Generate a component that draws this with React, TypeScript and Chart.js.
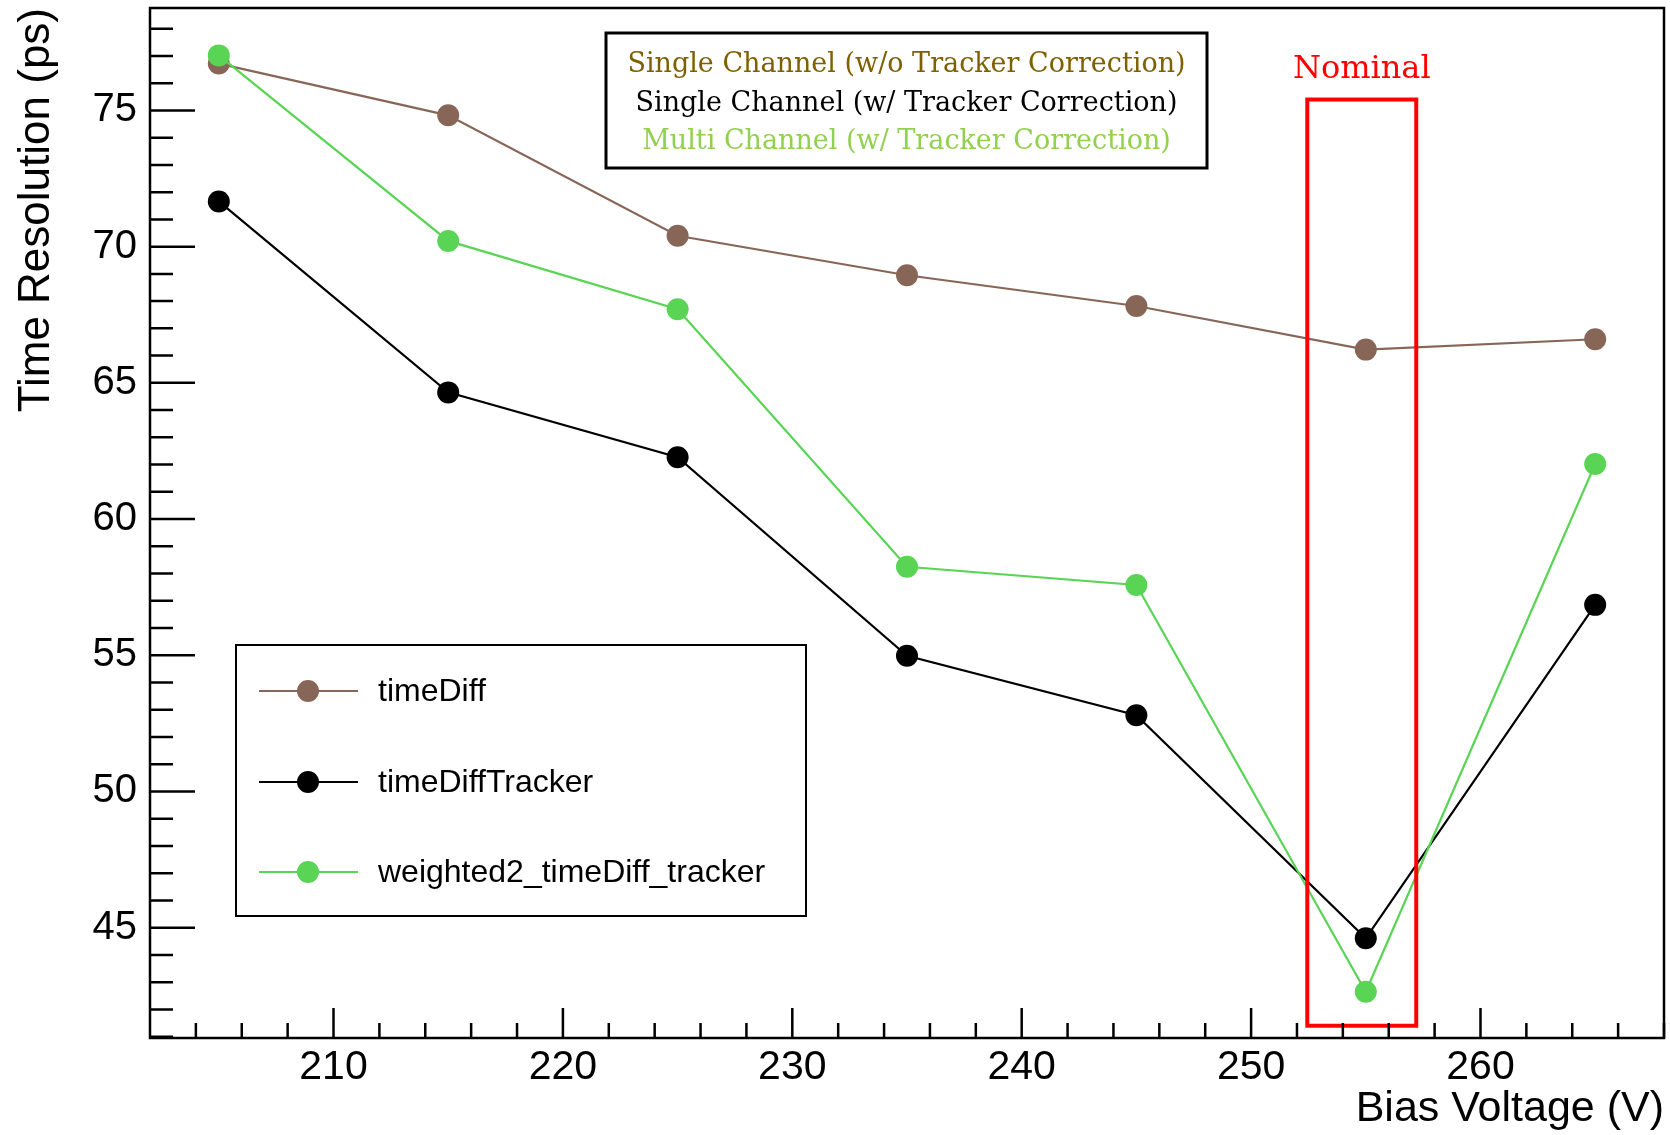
import React, { useEffect, useRef } from 'react';
import { Chart, registerables } from 'chart.js';

Chart.register(...registerables);

// ---- data ----
const biasVoltages = [205, 215, 225, 235, 245, 255, 265];
const timeDiff = [76.72, 74.82, 70.4, 68.95, 67.82, 66.22, 66.6];
const timeDiffTracker = [71.66, 64.65, 62.27, 54.98, 52.8, 44.61, 56.85];
const weightedTracker = [77.02, 70.21, 67.7, 58.25, 57.58, 42.65, 62.02];
const seriesNames = ['timeDiff', 'timeDiffTracker', 'weighted2_timeDiff_tracker'];
const seriesColors = ['#876657', '#000000', '#59d454'];

const boxLines = [
  'Single Channel (w/o Tracker Correction)',
  'Single Channel (w/ Tracker Correction)',
  'Multi Channel (w/ Tracker Correction)',
];
const boxLineColors = ['#7f6000', '#000000', '#92d050'];

const nominalLabel = 'Nominal';
const nominalX = [252.45, 257.2];
const nominalY = [41.4, 75.4];

const xRange = [202, 268];
const yRange = [40.95, 78.76];
const xTitle = 'Bias Voltage (V)';
const yTitle = 'Time Resolution (ps)';

const SANS = '"Liberation Sans", Arial, Helvetica, sans-serif';
const SERIF = '"DejaVu Serif", "Liberation Serif", serif';

const overlayPlugin = {
  id: 'rootStyle',
  afterDatasetsDraw(chart: any) {
    const { ctx, chartArea: a, scales } = chart;
    const xs = scales.x;
    const ys = scales.y;
    ctx.save();

    // Nominal box
    const nx0 = xs.getPixelForValue(nominalX[0]);
    const nx1 = xs.getPixelForValue(nominalX[1]);
    const ny0 = ys.getPixelForValue(nominalY[1]);
    const ny1 = ys.getPixelForValue(nominalY[0]);
    ctx.strokeStyle = '#ff0000';
    ctx.lineWidth = 4;
    ctx.strokeRect(nx0, ny0, nx1 - nx0, ny1 - ny0);
    ctx.fillStyle = '#ff0000';
    ctx.font = `32px ${SERIF}`;
    ctx.textAlign = 'center';
    ctx.textBaseline = 'alphabetic';
    ctx.fillText(nominalLabel, (nx0 + nx1) / 2, ny0 - 22);

    // frame
    ctx.strokeStyle = '#000';
    ctx.lineWidth = 2.5;
    ctx.strokeRect(a.left, a.top, a.right - a.left, a.bottom - a.top);

    // ticks (inward)
    ctx.lineWidth = 2.5;
    ctx.beginPath();
    for (let v = Math.ceil(yRange[0]); v <= Math.floor(yRange[1]); v++) {
      const p = ys.getPixelForValue(v);
      const len = v % 5 === 0 ? 45 : 23;
      ctx.moveTo(a.left, p);
      ctx.lineTo(a.left + len, p);
    }
    for (let v = Math.ceil(xRange[0] / 2) * 2; v <= xRange[1]; v += 2) {
      if (v <= xRange[0]) continue;
      const p = xs.getPixelForValue(v);
      const len = v % 10 === 0 ? 30 : 15;
      ctx.moveTo(p, a.bottom);
      ctx.lineTo(p, a.bottom - len);
    }
    ctx.stroke();

    // text box
    const bx = 606, by = 33, bw = 601, bh = 135;
    ctx.fillStyle = '#fff';
    ctx.fillRect(bx, by, bw, bh);
    ctx.lineWidth = 3;
    ctx.strokeStyle = '#000';
    ctx.strokeRect(bx, by, bw, bh);
    ctx.font = `27px ${SERIF}`;
    ctx.textAlign = 'center';
    const baselines = [72, 111, 149];
    boxLines.forEach((t, i) => {
      ctx.fillStyle = boxLineColors[i];
      ctx.fillText(t, bx + bw / 2, baselines[i]);
    });

    // legend
    const lx = 236, ly = 645, lw = 570, lh = 271;
    ctx.fillStyle = '#fff';
    ctx.fillRect(lx, ly, lw, lh);
    ctx.lineWidth = 2;
    ctx.strokeStyle = '#000';
    ctx.strokeRect(lx, ly, lw, lh);
    const rows = [691, 782, 872];
    ctx.font = `32px ${SANS}`;
    ctx.textAlign = 'left';
    ctx.textBaseline = 'middle';
    seriesNames.forEach((name, i) => {
      const y = rows[i];
      ctx.strokeStyle = seriesColors[i];
      ctx.lineWidth = 2;
      ctx.beginPath();
      ctx.moveTo(259, y);
      ctx.lineTo(358, y);
      ctx.stroke();
      ctx.fillStyle = seriesColors[i];
      ctx.beginPath();
      ctx.arc(308, y, 11, 0, Math.PI * 2);
      ctx.fill();
      ctx.fillStyle = '#000';
      ctx.fillText(name, 378, y + 1);
    });

    ctx.restore();
  },
};

export default function App() {
  const ref = useRef<HTMLCanvasElement | null>(null);
  useEffect(() => {
    document.body.style.margin = '0';
    document.body.style.background = '#fff';
    const canvas = ref.current!;
    const series = [timeDiff, timeDiffTracker, weightedTracker];
    const orders = [2, 1, 0];
    const chart = new Chart(canvas, {
      type: 'line',
      data: {
        datasets: series.map((s, i) => ({
          label: seriesNames[i],
          data: s.map((v, k) => ({ x: biasVoltages[k], y: v })),
          borderColor: seriesColors[i],
          backgroundColor: seriesColors[i],
          pointBackgroundColor: seriesColors[i],
          pointBorderWidth: 0,
          pointRadius: 11,
          borderWidth: 2.2,
          tension: 0,
          fill: false,
          order: orders[i],
        })),
      },
      options: {
        animation: false,
        responsive: false,
        devicePixelRatio: 1,
        layout: { autoPadding: false, padding: { top: 8, right: 6, left: 0, bottom: 0 } },
        plugins: { legend: { display: false }, tooltip: { enabled: false } },
        scales: {
          x: {
            type: 'linear',
            min: xRange[0],
            max: xRange[1],
            grid: { display: false, drawTicks: false },
            border: { display: false },
            ticks: {
              stepSize: 10,
              includeBounds: false,
              padding: 5,
              color: '#000',
              font: { family: SANS, size: 41 },
              maxRotation: 0,
            },
            title: {
              display: true,
              text: xTitle,
              align: 'end',
              color: '#000',
              font: { family: SANS, size: 43 },
              padding: { top: 0, bottom: 0 },
            },
            afterFit(s: any) {
              s.height = 97;
              s.paddingLeft = 0;
              s.paddingRight = 0;
            },
          },
          y: {
            type: 'linear',
            min: yRange[0],
            max: yRange[1],
            grid: { display: false, drawTicks: false },
            border: { display: false },
            ticks: {
              stepSize: 5,
              includeBounds: false,
              padding: 13,
              color: '#000',
              font: { family: SANS, size: 40 },
            },
            title: {
              display: true,
              text: yTitle,
              align: 'end',
              color: '#000',
              font: { family: SANS, size: 44 },
              padding: { top: 10, bottom: 0 },
            },
            afterFit(s: any) {
              s.width = 150;
              s.paddingTop = 0;
              s.paddingBottom = 0;
            },
          },
        },
      },
      plugins: [overlayPlugin],
    } as any);
    return () => chart.destroy();
  }, []);
  return <canvas ref={ref} width={1670} height={1135} style={{ display: 'block', width: 1670, height: 1135 }} />;
}
